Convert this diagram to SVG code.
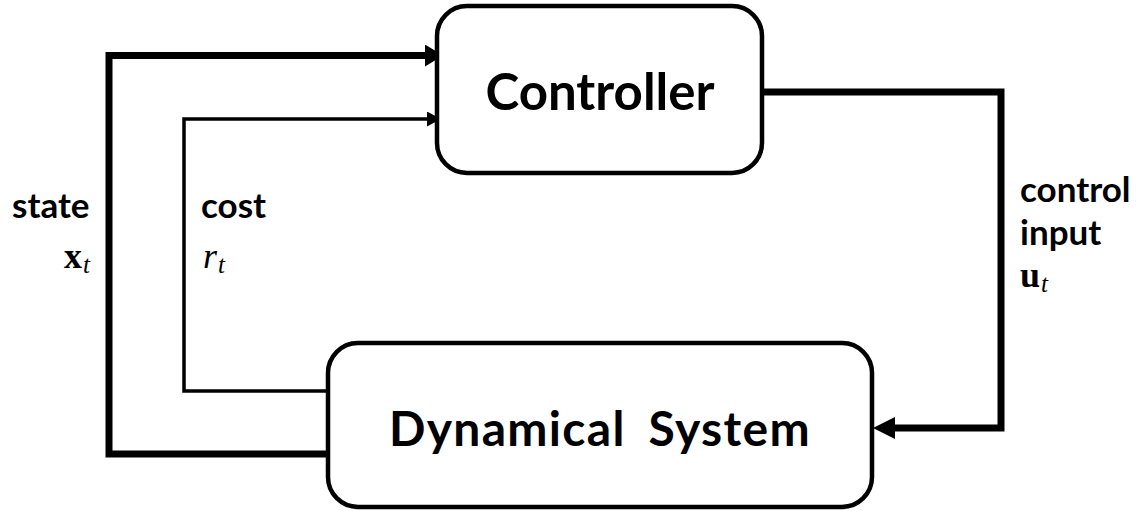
<svg xmlns="http://www.w3.org/2000/svg" width="1142" height="513" viewBox="0 0 1142 513">
<style>
.box{fill:#fff;stroke:#000;stroke-width:4.5}
.title{font-family:Lato,"Noto Sans",sans-serif;font-weight:bold;fill:#000;text-anchor:middle}
.lbl{font-family:Lato,"Noto Sans",sans-serif;font-weight:bold;font-size:35px;fill:#000}
.mb{font-family:"Liberation Serif",serif;font-weight:bold;font-size:36px;fill:#000}
.mi{font-family:"Liberation Serif",serif;font-style:italic;font-size:36px;fill:#000}
.sub{font-family:"Liberation Serif",serif;font-style:italic;font-size:25px;fill:#000}
.thick{fill:none;stroke:#000;stroke-width:7;stroke-linejoin:miter}
.thin{fill:none;stroke:#000;stroke-width:3.5;stroke-linejoin:miter}
</style>
<defs>
<marker id="ah" markerUnits="userSpaceOnUse" markerWidth="18" markerHeight="22" refX="6" refY="11" orient="auto">
<path d="M0,0 L18,11 L0,22 z" fill="#000"/>
</marker>
<marker id="ahs" markerUnits="userSpaceOnUse" markerWidth="14" markerHeight="15" refX="5" refY="7.5" orient="auto">
<path d="M0,0 L14,7.5 L0,15 z" fill="#000"/>
</marker>
<marker id="ahc" markerUnits="userSpaceOnUse" markerWidth="22" markerHeight="22" refX="10" refY="11" orient="auto">
<path d="M0,0 L22,11 L0,22 z" fill="#000"/>
</marker>
</defs>
<g id="connectors">
<path class="thick" d="M328,454 H109 V55.5 H431" marker-end="url(#ah)"/>
<path class="thin" d="M328,391 H184 V119 H432" marker-end="url(#ahs)"/>
<path class="thick" d="M762,92 H1001 V428 H885" marker-end="url(#ahc)"/>
</g>
<g id="controller">
<rect class="box" x="437" y="6" width="325" height="167" rx="30"/>
<text class="title" x="600" y="110" font-size="51">Controller</text>
</g>
<g id="dynamical-system">
<rect class="box" x="328" y="343" width="544" height="164" rx="30"/>
<text class="title" x="600" y="446" font-size="48" word-spacing="10" letter-spacing="1.3">Dynamical System</text>
</g>
<g id="labels">
<text class="lbl" x="12" y="218">state</text>
<text x="64" y="268"><tspan class="mb">x</tspan><tspan class="sub" dx="1" dy="5">t</tspan></text>
<text class="lbl" x="201" y="218">cost</text>
<text x="203" y="268"><tspan class="mi">r</tspan><tspan class="sub" dx="1" dy="5">t</tspan></text>
<text class="lbl" x="1020" y="202">control</text>
<text class="lbl" x="1020" y="245">input</text>
<text x="1020" y="287"><tspan class="mb">u</tspan><tspan class="sub" dx="1" dy="5">t</tspan></text>
</g>
</svg>
